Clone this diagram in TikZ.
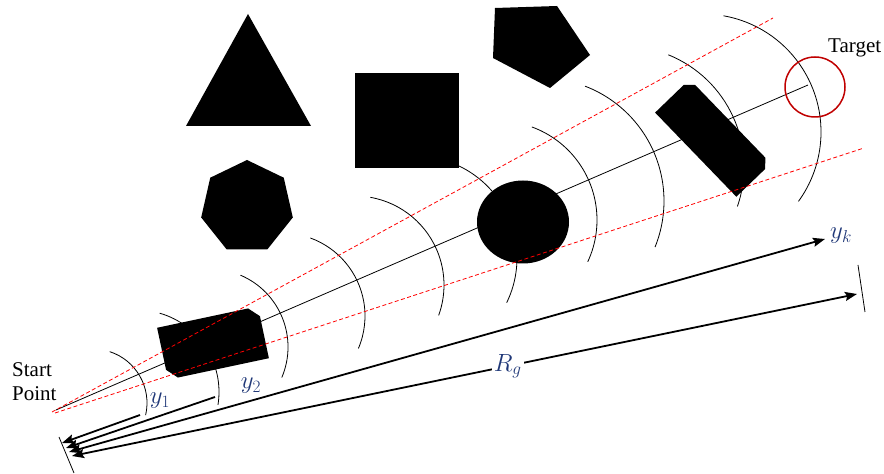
\documentclass[tikz,border=0pt]{standalone}
\usepackage{fontspec}
\setmainfont{Liberation Serif}
\usetikzlibrary{arrows.meta, calc}
\definecolor{tgtred}{RGB}{192,0,0}
\definecolor{lblblue}{RGB}{32,56,120}

\begin{document}
\begin{tikzpicture}[
  x=1pt, y=1pt,
  every node/.style={font=\fontsize{21}{24}\selectfont, inner sep=0pt},
  wave/.style={line width=0.8pt},
  beam/.style={red, line width=0.8pt, dash pattern=on 4pt off 2.5pt},
  obst/.style={fill=black},
  dimarr/.style={line width=1.8pt, -{Stealth[length=12pt, width=9pt, inset=2pt]}},
  ddimarr/.style={line width=1.8pt, {Stealth[length=12pt, width=9pt, inset=2pt]}-{Stealth[length=12pt, width=9pt, inset=2pt]}},
  lbl/.style={text=lblblue, font=\fontsize{25}{28}\selectfont}
]
  \useasboundingbox (0,0) rectangle (884,474);

  \coordinate (start) at (56,64);
  \coordinate (aim) at (808,389);
  \coordinate (bup0) at (52,62);
  \coordinate (bup1) at (773,456);
  \coordinate (blo0) at (55,61);
  \coordinate (blo1) at (864,326);

  % wave fronts
  \foreach \cx/\cy/\r/\a/\b in {93/71/54/72/-13, 137/82/82/74/-9, 210/127/78/67/-23,
      282/158/83/70/-23, 355/189/89/80/-20, 415/216/102/75/-26, 498/254/99/70/-25,
      541/273/123/69/-22, 623/307/121/68/-19, 703/342/118/80/-36}
    \draw[wave] (\cx,\cy) ++(\a:\r) arc[start angle=\a, end angle=\b, radius=\r];

  \draw[wave] (start) -- (aim);

  % obstacles
  \fill[obst] (186,348) -- (311,348) -- (248,460) -- cycle;
  \fill[obst] (355,306) rectangle (459,401);
  \fill[obst] (495,466) -- (557,468) -- (590,419) -- (550,386) -- (493,416) -- cycle;
  \fill[obst, shift={(247,267)}] (90:47) \foreach \k in {1,...,6} { -- ({90+\k*360/7}:47) } -- cycle;
  \fill[obst] (523,252) ellipse[x radius=46, y radius=41.5];
  \fill[obst, shift={(213,131)}, rotate=12] (-51.5,26.5) -- (41.5,26.5) -- (51.5,16.5)
    -- (51.5,-26.5) -- (-41.5,-26.5) -- (-51.5,-16.5) -- cycle;
  \fill[obst, shift={(713,336)}, rotate=-46] (-58.5,-24) -- (58.5,-24) -- (58.5,16)
    -- (50.5,24) -- (-50.5,24) -- (-58.5,16) -- cycle;

  \draw[beam] (bup0) -- (bup1);
  \draw[beam] (blo0) -- (blo1);

  \node[draw=tgtred, line width=1.5pt, circle, minimum size=60pt] (tgt) at (815,387) {};
  \node[anchor=base west] (tgtlbl) at (828,421) {Target};
  \node[anchor=north west, align=left] (stlbl) at (12,112) {Start\\Point};

  % ranges
  \coordinate (tk0) at (59,37);
  \coordinate (tk1) at (74,1);
  \coordinate (rt0) at (858,209);
  \coordinate (rt1) at (865,162);
  \draw[wave] (tk0) -- (tk1);
  \draw[wave] (rt0) -- (rt1);

  \coordinate (p1) at (62,31);
  \coordinate (p2) at (66,26);
  \coordinate (p3) at (69,22);
  \coordinate (p4) at (72,18);
  \coordinate (y1e) at (140,59);
  \coordinate (y2e) at (215,77);
  \coordinate (yke) at (825,235);
  \coordinate (rge) at (857,180);

  \draw[dimarr] (y1e) -- (p1);
  \draw[dimarr] (y2e) -- (p2);
  \draw[ddimarr] (p3) -- (yke);
  \draw[ddimarr] (p4) -- node[lbl, fill=white, inner sep=2pt, pos=0.555] (rglbl) {$R_g$} (rge);

  \node[lbl] (y1lbl) at (160,73) {$y_1$};
  \node[lbl] (y2lbl) at (251,88) {$y_2$};
  \node[lbl] (yklbl) at (841,238) {$y_k$};
\end{tikzpicture}
\end{document}
